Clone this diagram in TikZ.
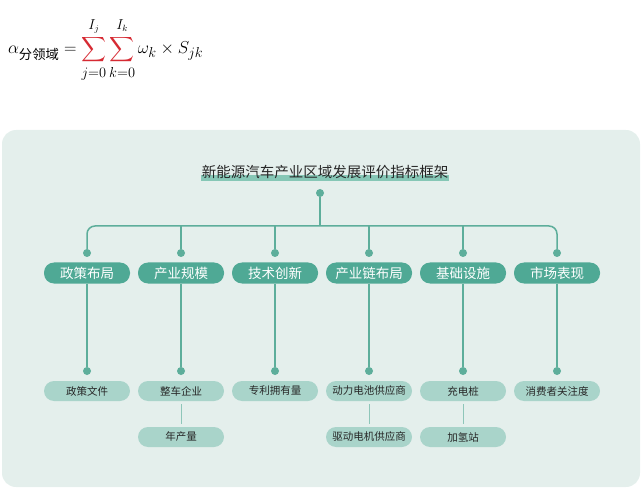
\documentclass[tikz,border=0pt]{standalone}
\usepackage{fontspec}
\usepackage{amsmath}
\setmainfont{Noto Sans CJK SC}
\usetikzlibrary{positioning}
\definecolor{panel}{HTML}{E4EFEC}
\definecolor{tealdark}{HTML}{4FA995}
\definecolor{teallight}{HTML}{A9D4CA}
\definecolor{tline}{HTML}{5DAE9B}
\definecolor{hl}{HTML}{86C7B6}
\definecolor{sumred}{HTML}{D62A33}
\begin{document}
\begin{tikzpicture}[x=1pt,y=-1pt,
  lone/.style={fill=tealdark,rounded corners=10pt,minimum width=86pt,minimum height=21pt,inner sep=0pt,text=white,font=\fontsize{13.5}{15}\selectfont},
  ltwo/.style={fill=teallight,rounded corners=10pt,minimum width=86pt,minimum height=20pt,inner sep=0pt,text=black!85,font=\fontsize{10.5}{12}\selectfont},
  joint/.style={circle,fill=tline,inner sep=0pt,minimum size=8pt},
  link/.style={draw=tline,line width=1.5pt},
  sublink/.style={draw=tline!70,line width=1pt}]
\useasboundingbox (0,0) rectangle (642,494);
\fill[panel,rounded corners=14pt] (2,130) rectangle (640,487);

\node[anchor=west,inner sep=0pt,font=\fontsize{19}{23}\selectfont] (formula) at (8,50)
  {$\displaystyle \alpha_{\text{分领域}} = \mathop{{\color{sumred}\sum}}\limits_{\rule{0pt}{11pt}j=0}^{I_j\rule[-4pt]{0pt}{4pt}}\mathop{{\color{sumred}\sum}}\limits_{\rule{0pt}{11pt}k=0}^{I_k\rule[-4pt]{0pt}{4pt}}\omega_k\times S_{jk}$};

\fill[hl] (201,175) rectangle (449,181);
\node[inner sep=0pt,text=black!85,font=\fontsize{14.5}{16}\selectfont] (title) at (325,172) {新能源汽车产业区域发展评价指标框架};

\node[joint] (top) at (320,193) {};
\coordinate (bar) at (320,226);

\node[joint] (ja1) at (87,253) {};
\node[joint] (ja2) at (181,253) {};
\node[joint] (ja3) at (275,253) {};
\node[joint] (ja4) at (369,253) {};
\node[joint] (ja5) at (463,253) {};
\node[joint] (ja6) at (557,253) {};

\node[lone] (p1) at (87,273) {政策布局};
\node[lone] (p2) at (181,273) {产业规模};
\node[lone] (p3) at (275,273) {技术创新};
\node[lone] (p4) at (369,273) {产业链布局};
\node[lone] (p5) at (463,273) {基础设施};
\node[lone] (p6) at (557,273) {市场表现};

\node[joint] (jb1) at (87,371) {};
\node[joint] (jb2) at (181,371) {};
\node[joint] (jb3) at (275,371) {};
\node[joint] (jb4) at (369,371) {};
\node[joint] (jb5) at (463,371) {};
\node[joint] (jb6) at (557,371) {};

\node[ltwo] (q1) at (87,391) {政策文件};
\node[ltwo] (q2) at (181,391) {整车企业};
\node[ltwo] (q3) at (275,391) {专利拥有量};
\node[ltwo] (q4) at (369,391) {动力电池供应商};
\node[ltwo] (q5) at (463,391) {充电桩};
\node[ltwo] (q6) at (557,391) {消费者关注度};

\node[ltwo] (r2) at (181,437) {年产量};
\node[ltwo] (r4) at (369,437) {驱动电机供应商};
\node[ltwo] (r5) at (463,437) {加氢站};

\draw[link] (top) -- (bar);
\draw[link,rounded corners=8pt] (ja1) |- (bar) -| (ja6);
\draw[link] (ja2) -- (ja2 |- bar);
\draw[link] (ja3) -- (ja3 |- bar);
\draw[link] (ja4) -- (ja4 |- bar);
\draw[link] (ja5) -- (ja5 |- bar);

\draw[link] (p1) -- (jb1);
\draw[link] (p2) -- (jb2);
\draw[link] (p3) -- (jb3);
\draw[link] (p4) -- (jb4);
\draw[link] (p5) -- (jb5);
\draw[link] (p6) -- (jb6);

\draw[sublink,shorten <=3pt,shorten >=3pt] (q2) -- (r2);
\draw[sublink,shorten <=3pt,shorten >=3pt] (q4) -- (r4);
\draw[sublink,shorten <=3pt,shorten >=3pt] (q5) -- (r5);
\end{tikzpicture}
\end{document}
